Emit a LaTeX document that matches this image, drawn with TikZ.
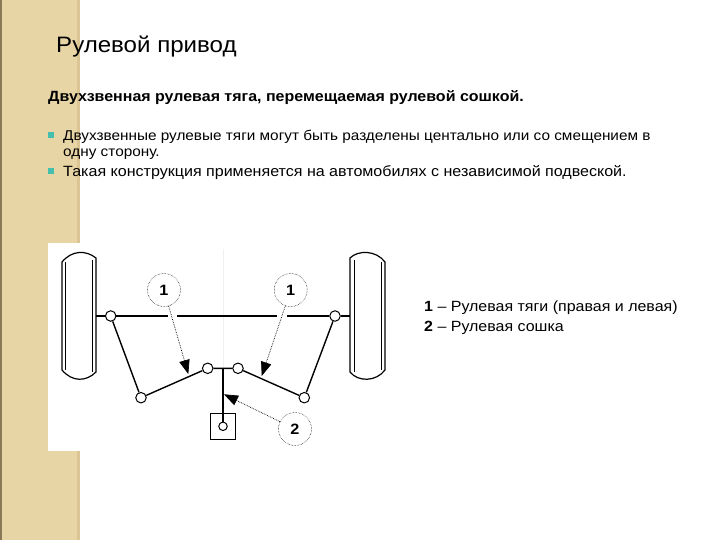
\documentclass[tikz,border=0pt]{standalone}
\usepackage{fontspec}
\setmainfont[FakeStretch=1.08]{Liberation Sans}
\usetikzlibrary{arrows.meta}
\definecolor{strip}{HTML}{E8D5A6}
\definecolor{stripedge}{HTML}{8A7A58}
\definecolor{stripright}{HTML}{DCC594}
\definecolor{bul}{HTML}{45BFAE}
\tikzset{
  x=1pt,y=-1pt,
  joint/.style={circle,draw=black,fill=white,line width=1pt,minimum size=10.5pt,inner sep=0pt},
  callout/.style={circle,draw=black,densely dotted,line width=0.5pt,fill=white,minimum size=33pt,inner sep=0pt,font=\bfseries\fontsize{15}{15}\selectfont},
  rod/.style={line width=1.4pt,black},
  lead/.style={densely dotted,line width=0.7pt,-{Triangle[length=14pt,width=10.5pt]}},
  txt/.style={anchor=base west,inner sep=0pt,font=\fontsize{14.2}{16}\selectfont},
  tyre/.style={draw=black,line width=1.2pt,fill=white},
  bullet/.style={rectangle,fill=bul,minimum size=6pt,inner sep=0pt}
}
\begin{document}
\begin{tikzpicture}
\useasboundingbox (0,0) rectangle (720,540);
\fill[white] (0,0) rectangle (720,540);
\fill[strip] (0,0) rectangle (80,540);
\fill[stripright] (77,0) rectangle (80,540);
\fill[stripedge] (0,0) rectangle (1.5,540);
\fill[white] (48,243) rectangle (380,451);
\draw[black!6,line width=0.6pt] (223.5,249) -- (223.5,368);
% wheels
\draw[tyre] (62,262) .. controls (72,250) and (86,250) .. (96,258) -- (96,372) .. controls (86,382) and (72,382) .. (62,370) -- cycle;
\draw[line width=0.6pt] (65.5,262) -- (65.5,370) (92,260) -- (92,372);
\draw[tyre] (350,258) .. controls (358,250) and (376,250) .. (385,262) -- (385,370) .. controls (376,382) and (358,382) .. (350,372) -- cycle;
\draw[line width=0.6pt] (354,260) -- (354,372) (381,262) -- (381,370);
% joints
\coordinate (hubL) at (96,316);
\coordinate (hubR) at (350,316);
\coordinate (arm) at (223,368.3);
\node[joint] (a) at (110.7,316) {};
\node[joint] (b) at (335,316) {};
\node[joint] (c) at (141,397.7) {};
\node[joint] (d) at (207.7,368.3) {};
\node[joint] (e) at (238,368.3) {};
\node[joint] (f) at (304.3,397.7) {};
\node[draw=black,line width=1.1pt,minimum size=25.5pt,inner sep=0pt,fill=white] (box) at (223,426.3) {};
\node[joint,minimum size=8.5pt] (g) at (223,426.3) {};
\draw[rod] (hubL) -- (a) (a) -- (b) (b) -- (hubR);
\draw[rod] (a) -- (c) (c) -- (d) (d) -- (e) (e) -- (f) (f) -- (b);
\draw[rod] (arm) -- (g);
% callouts
\node[callout] (c1) at (164,290) {1};
\node[callout] (c2) at (290.7,290) {1};
\node[callout] (c3) at (295,429) {2};
\coordinate (t1) at (188.3,374);
\coordinate (t2) at (261.7,376);
\coordinate (t3) at (224,394.3);
\fill[white] (167.5,311) rectangle (177,321);
\fill[white] (277,311) rectangle (287,321);
\draw[lead] (c1) -- (t1);
\draw[lead] (c2) -- (t2);
\draw[lead] (c3) -- (t3);
% text
\node[anchor=base west,inner sep=0pt,font=\fontsize{22.3}{26}\selectfont] (title) at (56,53) {Рулевой привод};
\node[txt,font=\bfseries\fontsize{14.8}{17}\selectfont] (sub) at (48,102) {Двухзвенная рулевая тяга, перемещаемая рулевой сошкой.};
\node[bullet] (b1) at (51,135) {};
\node[txt] (l1) at (63,141) {Двухзвенные рулевые тяги могут быть разделены центально или со смещением в};
\node[txt] (l2) at (63,157) {одну сторону.};
\node[bullet] (b2) at (51,171) {};
\node[txt,font=\fontsize{14.86}{16}\selectfont] (l3) at (63,177) {Такая конструкция применяется на автомобилях с независимой подвеской.};
\node[txt,font=\fontsize{14.8}{17}\selectfont] (k1) at (424,311) {\textbf{1} – Рулевая тяги (правая и левая)};
\node[txt,font=\fontsize{14.8}{17}\selectfont] (k2) at (424,331) {\textbf{2} – Рулевая сошка};
\end{tikzpicture}
\end{document}
